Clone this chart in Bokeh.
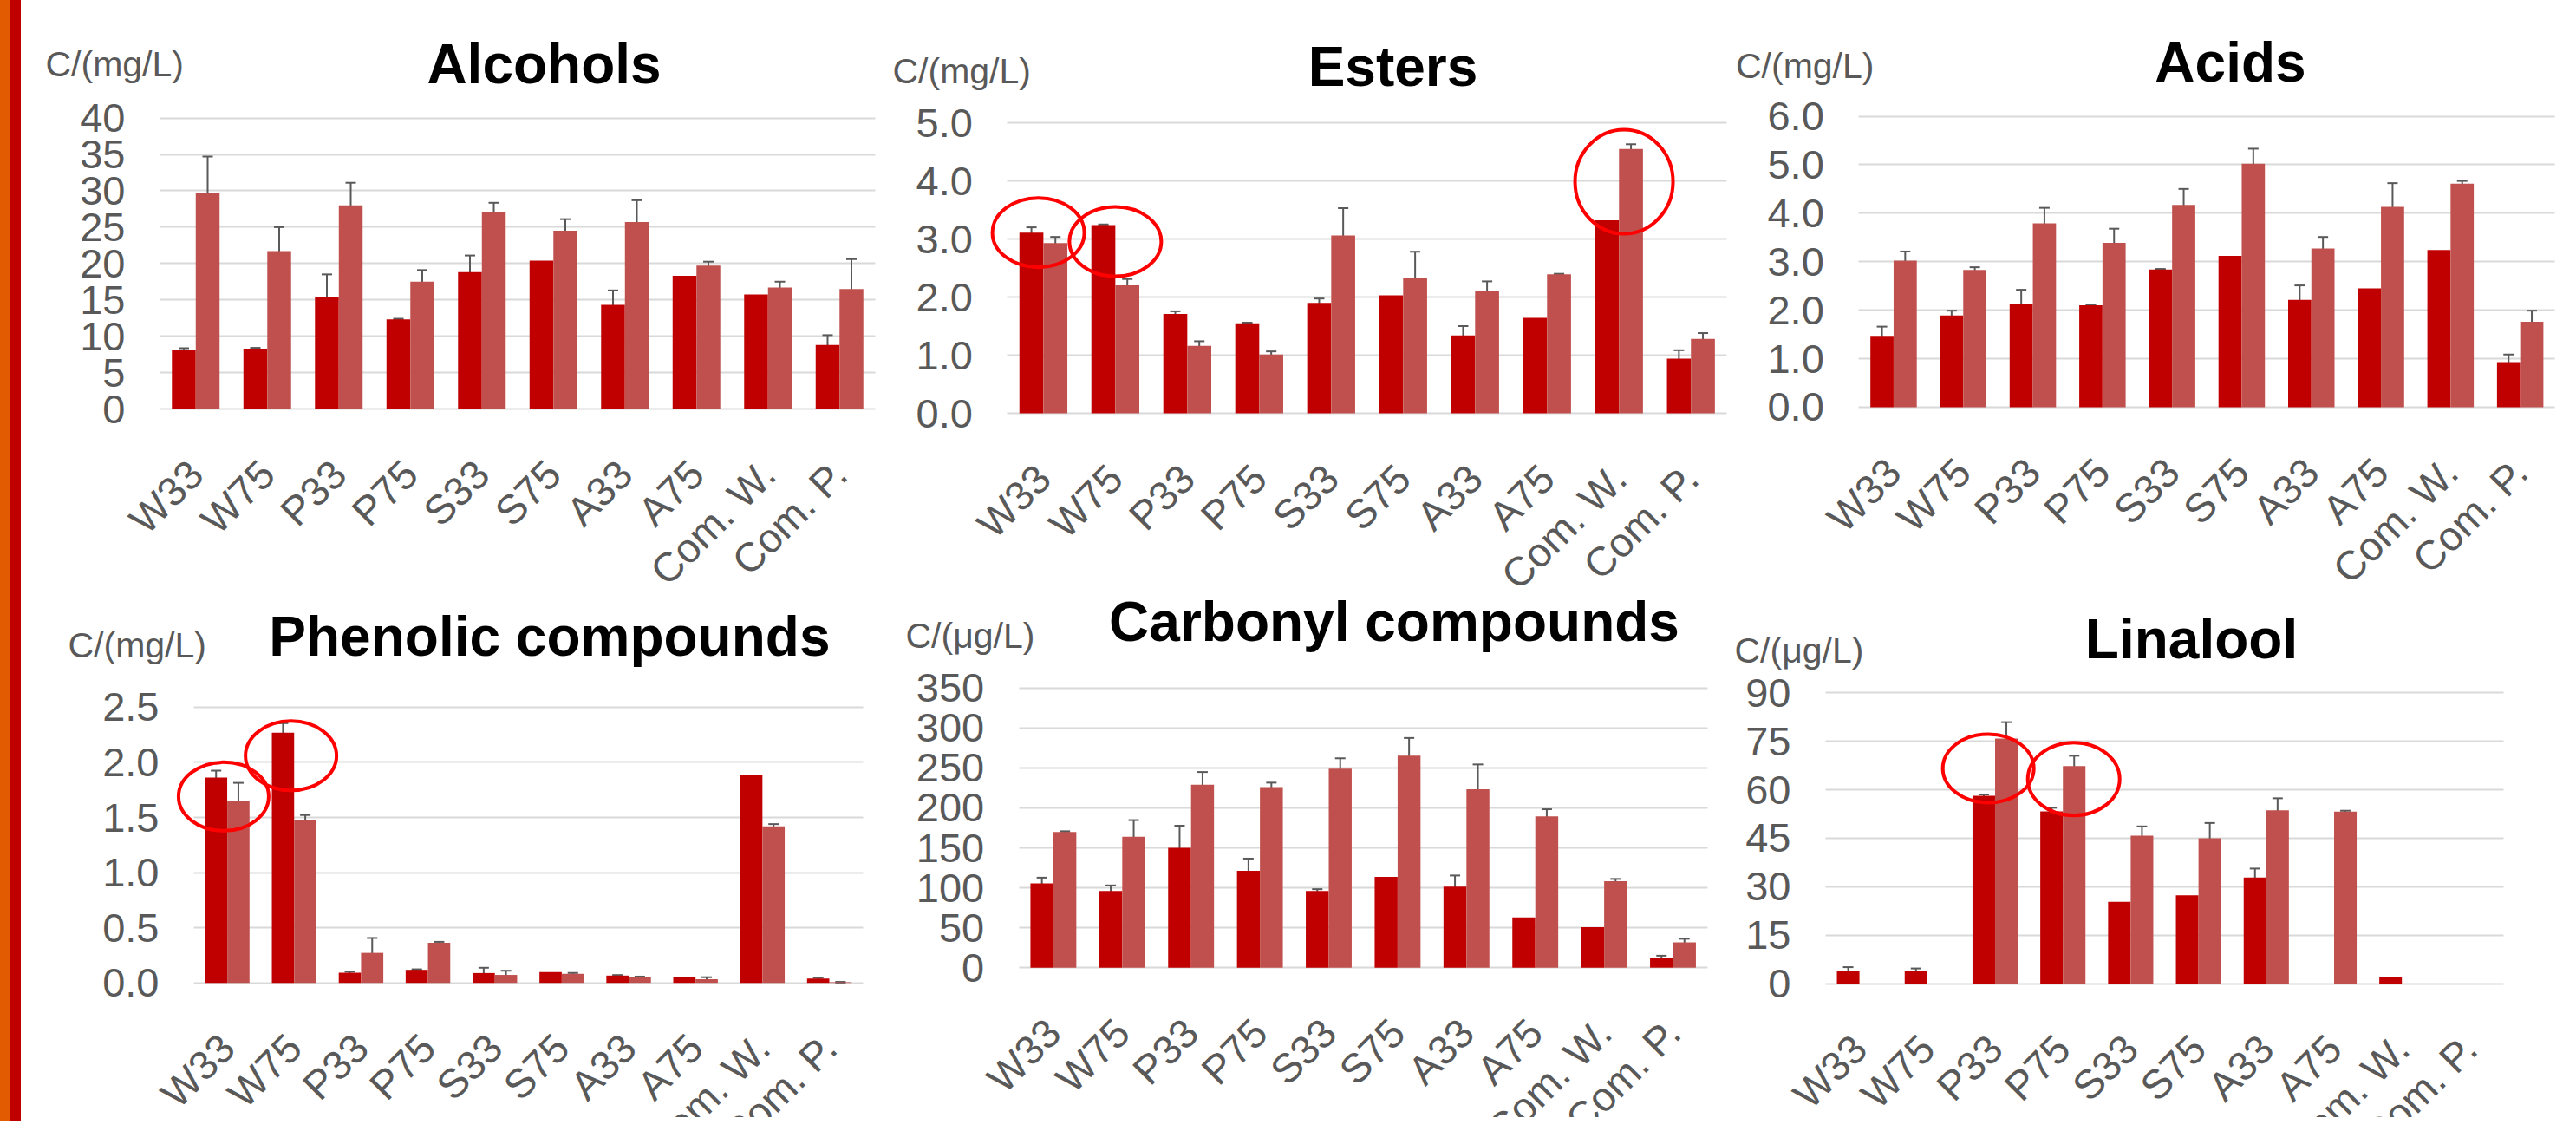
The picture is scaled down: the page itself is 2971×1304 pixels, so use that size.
import math
from bokeh.plotting import figure
from bokeh.models import (ColumnDataSource, Range1d, FixedTicker, LinearAxis, Grid,
                          PrintfTickFormatter, Whisker, TeeHead, Label, Div)
from bokeh.layouts import row
from bokeh.embed import file_html
from bokeh.resources import INLINE

# ---------------- data ----------------
categories = ["W33", "W75", "P33", "P75", "S33", "S75", "A33", "A75", "Com. W.", "Com. P."]

alcohols_dark = [8.15, 8.3, 15.4, 12.3, 18.8, 20.4, 14.3, 18.3, 15.75, 8.8]
alcohols_dark_err = [0.2, 0.1, 3.1, 0.1, 2.3, 0, 2.0, 0, 0, 1.35]
alcohols_light = [29.7, 21.7, 28.0, 17.5, 27.1, 24.5, 25.7, 19.7, 16.7, 16.5]
alcohols_light_err = [5.0, 3.3, 3.1, 1.6, 1.25, 1.6, 3.0, 0.55, 0.8, 4.1]
alcohols_ticks = [0, 5, 10, 15, 20, 25, 30, 35, 40]

esters_dark = [3.11, 3.24, 1.71, 1.55, 1.90, 2.03, 1.34, 1.64, 3.32, 0.94]
esters_dark_err = [0.09, 0.01, 0.045, 0.01, 0.075, 0, 0.16, 0, 0, 0.145]
esters_light = [2.93, 2.20, 1.16, 1.01, 3.06, 2.32, 2.10, 2.39, 4.55, 1.28]
esters_light_err = [0.105, 0.11, 0.08, 0.055, 0.47, 0.46, 0.17, 0.01, 0.08, 0.10]
esters_ticks = [0, 1, 2, 3, 4, 5]

acids_dark = [1.47, 1.89, 2.13, 2.10, 2.84, 3.12, 2.21, 2.45, 3.24, 0.93]
acids_dark_err = [0.19, 0.10, 0.29, 0.01, 0.01, 0, 0.30, 0, 0, 0.155]
acids_light = [3.02, 2.83, 3.79, 3.39, 4.17, 5.02, 3.27, 4.13, 4.61, 1.76]
acids_light_err = [0.19, 0.055, 0.32, 0.29, 0.33, 0.31, 0.24, 0.49, 0.055, 0.23]
acids_ticks = [0, 1, 2, 3, 4, 5, 6]

phenolic_dark = [1.863, 2.27, 0.092, 0.118, 0.089, 0.098, 0.066, 0.056, 1.89, 0.039]
phenolic_dark_err = [0.062, 0.085, 0.01, 0.005, 0.048, 0, 0.005, 0, 0, 0.01]
phenolic_light = [1.65, 1.476, 0.272, 0.364, 0.072, 0.082, 0.052, 0.033, 1.42, 0.006]
phenolic_light_err = [0.164, 0.046, 0.135, 0.008, 0.038, 0.008, 0.005, 0.018, 0.02, 0.003]
phenolic_ticks = [0, 0.5, 1.0, 1.5, 2.0, 2.5]

carbonyl_dark = [105.5, 96, 149.9, 121.3, 96, 113.6, 101.4, 62.9, 50.7, 11.8]
carbonyl_dark_err = [7.2, 7, 27.8, 15.2, 2.3, 0, 14, 0, 0, 3.2]
carbonyl_light = [169.8, 163.9, 229.1, 225.9, 249, 265.3, 223.2, 189.3, 108.2, 31.7]
carbonyl_light_err = [1, 20.8, 15.8, 5.7, 13.1, 22.2, 31.2, 9, 2.9, 4.5]
carbonyl_ticks = [0, 50, 100, 150, 200, 250, 300, 350]

linalool_dark = [4.0, 4.0, 58.1, 53.3, 25.3, 27.3, 32.8, 0, 1.9, 0]
linalool_dark_err = [1.1, 0.7, 0.4, 1.1, 0, 0, 2.8, 0, 0, 0]
linalool_light = [0, 0, 75.8, 67.3, 45.8, 45.0, 53.6, 53.2, 0, 0]
linalool_light_err = [0, 0, 5.1, 3.2, 2.85, 4.7, 3.75, 0.3, 0, 0]
linalool_ticks = [0, 15, 30, 45, 60, 75, 90]

# circled spots: category and data value at the circle centre
esters_marked = ["W33", "W75", "Com. W."]
esters_marked_at = [3.11, 2.955, 3.985]
phenolic_marked = ["W33", "W75"]
phenolic_marked_at = [1.69, 2.06]
linalool_marked = ["P33", "P75"]
linalool_marked_at = [66.6, 63.3]

# ---------------- style / layout ----------------
DARK = "#C00000"
LIGHT = "#C0504D"
GRAY = "#595959"
GRID = "#D9D9D9"
MARK = "#FF0000"
FONT = "Liberation Sans"
BAR_W = 0.333
OFF = 0.1667
N = len(categories)
xpos = [i + 0.5 for i in range(N)]

STRIPE_W = 27
PAGE_W, PAGE_H = 2960, 1296
FIG_X0 = STRIPE_W
FIG_Y0 = -9              # where the canvas top actually lands on the page
FIG_W = PAGE_W - STRIPE_W
TITLE_PX, UNIT_PX, TICK_PX = 64, 41, 47
TITLE_LIFT, UNIT_LIFT = 24, 11   # label-box to baseline correction (px)

p = figure(width=FIG_W, height=PAGE_H, x_range=Range1d(0, 1), y_range=Range1d(0, 1),
           x_axis_location=None, y_axis_location=None,
           output_backend="svg", toolbar_location=None, tools="", title=None,
           min_border=0, min_border_left=0, min_border_right=0,
           min_border_top=0, min_border_bottom=0)
p.center = [r for r in p.center if not isinstance(r, Grid)]
p.outline_line_color = None
p.background_fill_color = "white"
p.border_fill_color = "white"


def add_panel(k, title, unit, dark, dark_err, light, light_err, ticks, fmt,
              area, unit_at, title_at, marked=None, marked_at=None, mark_geo=None):
    L, R, T, B = area           # plot area on the page (px)
    y0, y1 = ticks[0], ticks[-1]
    kx = (R - L) / N
    ky = (B - T) / (y1 - y0)

    def dx(px):
        return (px - L) / kx

    def dy(py):
        return y0 + (B - py) / ky

    xr, yr = f"x{k}", f"y{k}"
    p.extra_x_ranges[xr] = Range1d(dx(FIG_X0), dx(FIG_X0 + FIG_W))
    p.extra_y_ranges[yr] = Range1d(dy(FIG_Y0 + PAGE_H), dy(FIG_Y0))
    rn = dict(x_range_name=xr, y_range_name=yr)

    grid = Grid(dimension=1, ticker=FixedTicker(ticks=ticks),
                grid_line_color=GRID, grid_line_width=2, **rn)
    has_cross = "cross_bounds" in grid.properties()
    if has_cross:
        grid.cross_bounds = (0, N)
        grid.bounds = (y0, y1)
        p.add_layout(grid)

    src = ColumnDataSource(dict(
        xd=[x - OFF for x in xpos], xl=[x + OFF for x in xpos],
        dark=dark, light=light))
    p.vbar(x="xd", top="dark", width=BAR_W, source=src, fill_color=DARK,
           line_color=None, **rn)
    p.vbar(x="xl", top="light", width=BAR_W, source=src, fill_color=LIGHT,
           line_color=None, **rn)

    for vals, errs, off in ((dark, dark_err, -OFF), (light, light_err, OFF)):
        keep = [i for i, e in enumerate(errs) if e > 0]
        es = ColumnDataSource(dict(
            x=[xpos[i] + off for i in keep],
            upper=[vals[i] + errs[i] for i in keep],
            lower=[vals[i] - errs[i] for i in keep]))
        p.add_layout(Whisker(source=es, base="x", upper="upper", lower="lower",
                             dimension="height", line_color=GRAY, line_width=2,
                             upper_head=TeeHead(size=12, line_color=GRAY, line_width=2),
                             lower_head=TeeHead(size=12, line_color=GRAY, line_width=2),
                             **rn))

    if marked:
        for cat, at, (off, w, h) in zip(marked, marked_at, mark_geo):
            i = categories.index(cat)
            p.ellipse(x=[xpos[i] + off], y=[at], width=w, height=h,
                      width_units="screen", height_units="screen",
                      fill_color=None, line_color=MARK, line_width=4, **rn)

    yax = LinearAxis(fixed_location=0, ticker=FixedTicker(ticks=ticks),
                     formatter=PrintfTickFormatter(format=fmt), bounds=(y0, y1), **rn)
    yax.axis_line_color = None
    yax.minor_tick_line_color = None
    yax.major_tick_out = 0
    if has_cross:
        yax.major_tick_line_color = None
        yax.major_tick_in = 0
    else:
        yax.major_tick_in = int(round(R - L))
        yax.major_tick_line_color = GRID
        yax.major_tick_line_width = 2
    yax.major_label_standoff = 40
    yax.major_label_text_font = FONT
    yax.major_label_text_font_size = f"{TICK_PX}px"
    yax.major_label_text_color = GRAY
    p.add_layout(yax, "left")

    xax = LinearAxis(fixed_location=y0, ticker=FixedTicker(ticks=xpos),
                     major_label_overrides={x: c for x, c in zip(xpos, categories)},
                     bounds=(0, N), **rn)
    xax.axis_line_color = None
    xax.major_tick_line_color = None
    xax.minor_tick_line_color = None
    xax.major_tick_in = 0
    xax.major_tick_out = 0
    xax.major_label_orientation = math.pi / 4
    xax.major_label_standoff = 67
    xax.major_label_text_font = FONT
    xax.major_label_text_font_size = f"{TICK_PX}px"
    xax.major_label_text_color = GRAY
    p.add_layout(xax, "below")

    p.add_layout(Label(x=dx(unit_at[0]), y=dy(unit_at[1] - UNIT_LIFT), text=unit,
                       text_font=FONT, text_font_size=f"{UNIT_PX}px", text_color=GRAY,
                       text_align="left", text_baseline="alphabetic", **rn))
    p.add_layout(Label(x=dx(title_at[0]), y=dy(title_at[1] - TITLE_LIFT), text=title,
                       text_font=FONT, text_font_size=f"{TITLE_PX}px", text_font_style="bold",
                       text_color="black", text_align="center",
                       text_baseline="alphabetic", **rn))


add_panel(1, "Alcohols", "C/(mg/L)", alcohols_dark, alcohols_dark_err,
          alcohols_light, alcohols_light_err, alcohols_ticks, "%d",
          (182, 1007, 134.6, 470), (50, 83), (625, 96))
add_panel(2, "Esters", "C/(mg/L)", esters_dark, esters_dark_err,
          esters_light, esters_light_err, esters_ticks, "%.1f",
          (1159.4, 1989.2, 140, 475), (1027, 91), (1604, 99),
          esters_marked, esters_marked_at,
          [(-0.07, 106, 80), (0.0, 106, 80), (0.07, 113, 120)])
add_panel(3, "Acids", "C/(mg/L)", acids_dark, acids_dark_err,
          acids_light, acids_light_err, acids_ticks, "%.1f",
          (2141.3, 2944.3, 132.5, 467.9), (1999.5, 85), (2570, 94.4))
add_panel(4, "Phenolic compounds", "C/(mg/L)", phenolic_dark, phenolic_dark_err,
          phenolic_light, phenolic_light_err, phenolic_ticks, "%.1f",
          (221, 992.6, 813.9, 1131.7), (76, 753), (631.4, 756.3),
          phenolic_marked, phenolic_marked_at,
          [(-0.054, 104, 79), (-0.047, 105, 80)])
add_panel(5, "Carbonyl compounds", "C/(μg/L)", carbonyl_dark, carbonyl_dark_err,
          carbonyl_light, carbonyl_light_err, carbonyl_ticks, "%d",
          (1172.7, 1966.7, 791.8, 1114.2), (1042, 742), (1605.5, 739.7))
add_panel(6, "Linalool", "C/(μg/L)", linalool_dark, linalool_dark_err,
          linalool_light, linalool_light_err, linalool_ticks, "%d",
          (2103, 2885, 797.2, 1132.6), (1998, 759), (2525, 759.3),
          linalool_marked, linalool_marked_at,
          [(-0.10, 105, 79), (0.16, 106, 84)])

stripe = Div(text="", width=STRIPE_W, height=PAGE_H,
             styles={"background": "linear-gradient(to right, #E35B00 0px, #E35B00 15px, #C00000 15px, #C00000 27px)"})

layout = row(stripe, p)
layout.margin = (-8, 0, 0, -8)

open("out.html", "w").write(file_html(layout, INLINE))
